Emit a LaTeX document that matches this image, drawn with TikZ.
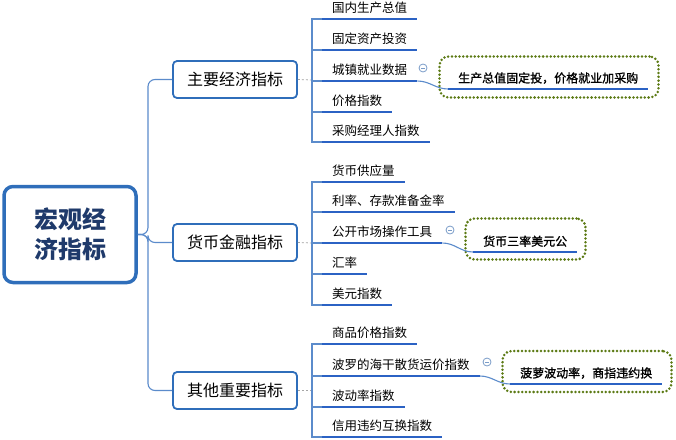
\documentclass[tikz,border=0pt]{standalone}
\usepackage{fontspec}
\setmainfont{Noto Sans CJK SC}
\newfontfamily\cjkbold[FakeBold=1.2]{Noto Sans CJK SC}
\definecolor{boxblue}{HTML}{2F6EBA}
\definecolor{linkblue}{HTML}{5B8BCB}
\definecolor{ulblue}{HTML}{2B62C4}
\definecolor{rootnavy}{HTML}{1F3A6B}
\definecolor{olivedot}{HTML}{5C7A14}
\definecolor{circblue}{HTML}{7A9CC8}

\begin{document}
\begin{tikzpicture}[x=1pt,y=-1pt,
    rootbox/.style={draw=boxblue,line width=3.5pt,rounded corners=9pt,fill=white,
      minimum width=132pt,minimum height=96pt,align=center,text=rootnavy,
      font=\fontsize{24}{30}\selectfont\bfseries},
    branchbox/.style={draw=boxblue,line width=1.8pt,rounded corners=4pt,fill=white,
      minimum width=124pt,minimum height=37pt,font=\fontsize{16}{18}\selectfont},
    leaf/.style={anchor=south west,inner xsep=10pt,inner ysep=5pt,
      font=\fontsize{12.5}{15}\selectfont},
    sumtext/.style={anchor=south west,inner xsep=10pt,inner ysep=5pt,
      font=\cjkbold\fontsize{12}{14}\selectfont},
    sumbox/.style={draw=olivedot,line width=2.8pt,dash pattern=on 0pt off 3.8pt,
      line cap=round,rounded corners=9pt,minimum height=41pt},
    link/.style={draw=linkblue,line width=1.1pt},
    hubline/.style={draw=gray!70,line width=0.8pt,dash pattern=on 2pt off 2pt},
    uline/.style={draw=ulblue,line width=2.6pt},
    collapse/.style={circle,draw=circblue,line width=0.8pt,minimum size=8pt,inner sep=0pt,
      path picture={\draw[circblue,line width=0.8pt]
        ([xshift=-2pt]path picture bounding box.center) --
        ([xshift=2pt]path picture bounding box.center);}}]
  \useasboundingbox (0,0) rectangle (676,439);

  % root and the three branches
  \node[rootbox] (root) at (70,234.5) {宏观经\\济指标};
  \node[branchbox] (mainind) at (235,79.5) {主要经济指标};
  \node[branchbox] (finind) at (235,242.5) {货币金融指标};
  \node[branchbox] (otherind) at (235,390.5) {其他重要指标};
  \coordinate (sp) at (148,234.5);
  \draw[link,rounded corners=7pt] (root.east) -- (sp) |- (mainind.west);
  \draw[link,rounded corners=7pt] (root.east) -- (sp) |- (finind.west);
  \draw[link,rounded corners=7pt] (root.east) -- (sp) |- (otherind.west);

  % leaves
  \node[leaf] (m1) at (322,19) {国内生产总值};
  \node[leaf] (m2) at (322,50) {固定资产投资};
  \node[leaf] (m3) at (322,81) {城镇就业数据};
  \node[leaf] (m4) at (322,112) {价格指数};
  \node[leaf] (m5) at (322,142) {采购经理人指数};
  \node[leaf] (f1) at (322,182) {货币供应量};
  \node[leaf] (f2) at (322,212) {利率、存款准备金率};
  \node[leaf] (f3) at (322,243) {公开市场操作工具};
  \node[leaf] (f4) at (322,274) {汇率};
  \node[leaf] (f5) at (322,305) {美元指数};
  \node[leaf] (o1) at (322,344) {商品价格指数};
  \node[leaf] (o2) at (322,376) {波罗的海干散货运价指数};
  \node[leaf] (o3) at (322,407) {波动率指数};
  \node[leaf] (o4) at (322,437) {信用违约互换指数};

  \coordinate (hm) at (312,80);
  \coordinate (hf) at (312,243);
  \coordinate (ho) at (312,390.5);
  \draw[hubline] (mainind.east) -- (hm);
  \draw[hubline] (finind.east) -- (hf);
  \draw[hubline] (otherind.east) -- (ho);
  \foreach \i in {1,...,5} \draw[link] (hm) |- (m\i.south west);
  \foreach \i in {1,...,5} \draw[link] (hf) |- (f\i.south west);
  \foreach \i in {1,...,4} \draw[link] (ho) |- (o\i.south west);

  % summaries
  \node[sumbox,minimum width=219pt] (s1box) at (549,77) {};
  \node[sumbox,minimum width=120pt] (s2box) at (525.5,239) {};
  \node[sumbox,minimum width=169pt] (s3box) at (587,371.5) {};
  \node[sumtext] (s1) at (448,89) {生产总值固定投，价格就业加采购};
  \node[sumtext] (s2) at (473,252) {货币三率美元公};
  \node[sumtext] (s3) at (510,384) {菠萝波动率，商指违约换};
  \draw[link] (m3.south east) to[out=0,in=180] (s1.south west);
  \draw[link] (f3.south east) to[out=0,in=180] (s2.south west);
  \draw[link] (o2.south east) to[out=0,in=180] (s3.south west);
  \node[collapse] (c1) at (423,68) {};
  \node[collapse] (c2) at (450,230) {};
  \node[collapse] (c3) at (487,362) {};

  \foreach \n in {m1,m2,m3,m4,m5,f1,f2,f3,f4,f5,o1,o2,o3,o4,s1,s2,s3}
    \draw[uline] (\n.south west) -- (\n.south east);
\end{tikzpicture}
\end{document}
